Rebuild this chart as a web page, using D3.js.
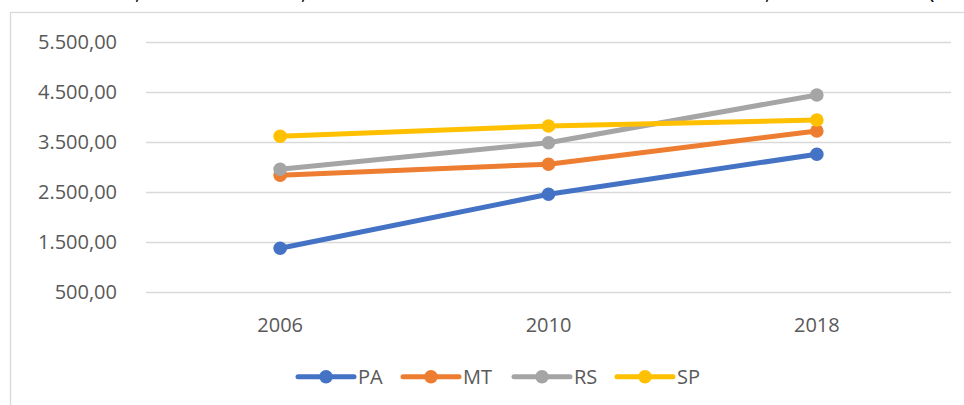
<!DOCTYPE html>
<html>
<head>
<meta charset="utf-8">
<script src="https://cdn.jsdelivr.net/npm/d3@7"></script>
<style>
  html, body { margin: 0; padding: 0; background: #fff; overflow: hidden; }
  svg { display: block; font-family: "Open Sans", "Liberation Sans", sans-serif; }
</style>
</head>
<body>
<svg id="chart" width="964" height="405"></svg>
<script>
// Data
const years = ["2006", "2010", "2018"];
const seriesNames = ["PA", "MT", "RS", "SP"];
const pa = [1370, 2450, 3250];
const mt = [2830, 3050, 3715];
const rs = [2950, 3480, 4435];
const sp = [3610, 3815, 3935];
const yTicks = [500, 1500, 2500, 3500, 4500, 5500];
const colors = ["#4472C4", "#ED7D31", "#A5A5A5", "#FFC000"];
// bits of the title line above, cut off by the crop
const titleBits = [",", ",", ",", "("];

const series = [pa, mt, rs, sp];

const svg = d3.select("#chart");
const W = 964, H = 405;

// chart frame (runs off the right and bottom edges)
svg.append("rect")
    .attr("x", 10.5).attr("y", 12.5)
    .attr("width", W + 20).attr("height", H + 20)
    .attr("fill", "#fff")
    .attr("stroke", "#d9d9d9")
    .attr("stroke-width", 1.3);

// clipped title descenders
const titleX = [135, 301, 765, 928];
svg.append("g").selectAll("text")
    .data(titleBits)
    .join("text")
    .attr("x", (d, i) => titleX[i])
    .attr("y", -1)
    .attr("font-size", 22)
    .attr("fill", "#000")
    .text(d => d);

// Scales
const x = d3.scalePoint().domain(years).range([146, 951]).padding(0.5);
const y = d3.scaleLinear().domain([500, 5500]).range([291.7, 41.7]);

// gridlines
svg.append("g").selectAll("line")
    .data(yTicks)
    .join("line")
    .attr("x1", 146).attr("x2", 951)
    .attr("y1", d => Math.round(y(d)) + 0.5)
    .attr("y2", d => Math.round(y(d)) + 0.5)
    .attr("stroke", "#d9d9d9")
    .attr("stroke-width", 1.3);

// y axis labels
const fmt = d3.formatLocale({decimal: ",", thousands: ".", grouping: [3], currency: ["", ""]}).format(",.2f");
svg.append("g").selectAll("text")
    .data(yTicks)
    .join("text")
    .attr("x", 117)
    .attr("y", d => y(d))
    .attr("dy", "0.36em")
    .attr("text-anchor", "end")
    .attr("font-size", 20)
    .attr("fill", "#595959")
    .text(d => fmt(d));

// x axis labels
svg.append("g").selectAll("text")
    .data(years)
    .join("text")
    .attr("x", d => x(d))
    .attr("y", 332)
    .attr("text-anchor", "middle")
    .attr("font-size", 20)
    .attr("fill", "#595959")
    .text(d => d);

// lines
const line = d3.line().x((d, i) => x(years[i])).y(d => y(d));
series.forEach(function(s, k) {
    const g = svg.append("g");
    g.append("path")
        .attr("d", line(s))
        .attr("fill", "none")
        .attr("stroke", colors[k])
        .attr("stroke-width", 5)
        .attr("stroke-linejoin", "round")
        .attr("stroke-linecap", "round");
    g.selectAll("circle")
        .data(s)
        .join("circle")
        .attr("cx", (d, i) => x(years[i]))
        .attr("cy", d => y(d))
        .attr("r", 6.8)
        .attr("fill", colors[k]);
});

// legend
const legX = [298, 403, 514, 617];
const legY = 376.7;
const leg = svg.append("g").selectAll("g")
    .data(seriesNames)
    .join("g")
    .attr("transform", (d, i) => "translate(" + legX[i] + "," + legY + ")");
leg.append("line")
    .attr("x1", 0).attr("x2", 56)
    .attr("stroke", (d, i) => colors[i])
    .attr("stroke-width", 5)
    .attr("stroke-linecap", "round");
leg.append("circle")
    .attr("cx", 28).attr("r", 6.8)
    .attr("fill", (d, i) => colors[i]);
leg.append("text")
    .attr("x", 60)
    .attr("y", 7.6)
    .attr("font-size", 20)
    .attr("fill", "#595959")
    .text(d => d);
</script>
</body>
</html>
